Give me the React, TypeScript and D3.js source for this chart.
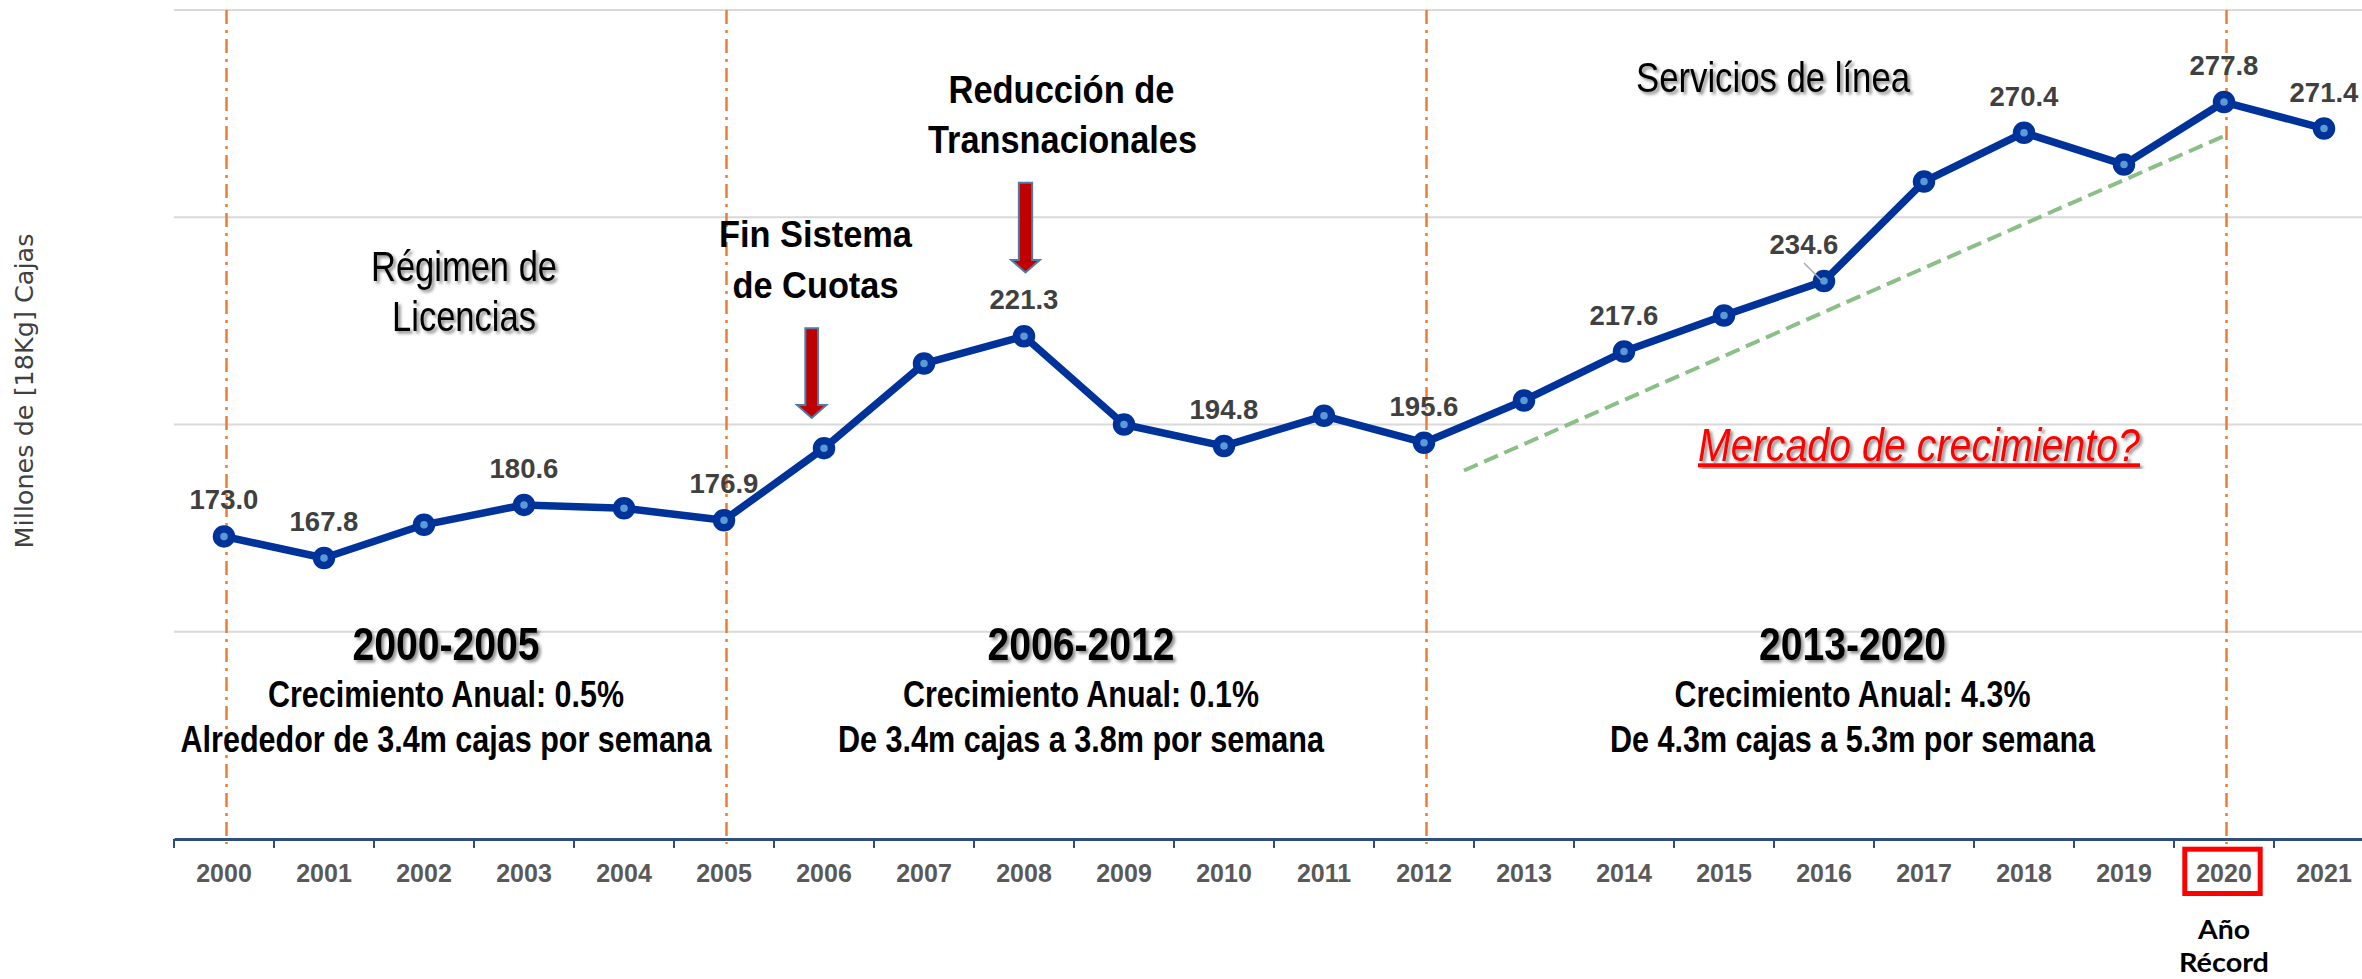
import React, { useRef, useEffect } from "react";
import * as d3 from "d3";

const years = [
  "2000", "2001", "2002", "2003", "2004", "2005", "2006", "2007", "2008", "2009", "2010",
  "2011", "2012", "2013", "2014", "2015", "2016", "2017", "2018", "2019", "2020", "2021",
];
const volumes = [
  173.0, 167.8, 175.8, 180.6, 179.8, 176.9, 194.3, 214.7, 221.3, 200.0, 194.8,
  202.1, 195.6, 205.8, 217.6, 226.3, 234.6, 258.6, 270.4, 262.7, 277.8, 271.4,
];
const labeledYears = ["2000", "2001", "2003", "2005", "2008", "2010", "2012", "2014", "2016", "2018", "2020", "2021"];
const periodBreaks = ["2000", "2005", "2012", "2020"];
const gridValues = [150, 200, 250, 300];
const trendYears = [2012.4, 2020];
const trendValues = [188.9, 269.6];
const periodTitles = ["2000-2005", "2006-2012", "2013-2020"];
const periodGrowth = ["Crecimiento Anual: 0.5%", "Crecimiento Anual: 0.1%", "Crecimiento Anual: 4.3%"];
const periodWeekly = [
  "Alrededor de 3.4m cajas por semana",
  "De 3.4m cajas a 3.8m por semana",
  "De 4.3m cajas a 5.3m por semana",
];

const W = 2362;
const H = 979;
const ARIAL = "'Liberation Sans', Arial, sans-serif";
const NARROW = "'Liberation Sans Narrow', 'Liberation Sans', Arial, sans-serif";

const App = () => {
  const svgRef = useRef(null);

  useEffect(() => {
    const svg = d3.select(svgRef.current);
    svg.selectAll("*").remove();

    const x = d3.scaleBand().domain(years).range([174, 2374]).padding(0);
    const y = d3.scaleLinear().domain([100, 300]).range([839, 10]);
    const cx = (yr) => x(yr) + x.bandwidth() / 2;
    const xYear = d3.scaleLinear().domain([2000, 2021]).range([cx("2000"), cx("2021")]);
    const data = years.map((yr, i) => ({ year: yr, value: volumes[i] }));

    const defs = svg.append("defs");
    const f = defs.append("filter").attr("id", "shadow")
      .attr("x", "-10%").attr("y", "-30%").attr("width", "130%").attr("height", "170%");
    f.append("feDropShadow").attr("dx", 2.5).attr("dy", 2.5).attr("stdDeviation", 1.6)
      .attr("flood-color", "#000").attr("flood-opacity", 0.45);

    svg.append("rect").attr("width", W).attr("height", H).attr("fill", "#fff");

    // gridlines
    svg.append("g").selectAll("line").data(gridValues).join("line")
      .attr("x1", 174).attr("x2", W)
      .attr("y1", (d) => y(d)).attr("y2", (d) => y(d))
      .attr("stroke", "#d9d9d9").attr("stroke-width", 2);

    // period separators (dash-dot)
    svg.append("g").selectAll("line").data(periodBreaks).join("line")
      .attr("x1", (d) => cx(d) + 2.5).attr("x2", (d) => cx(d) + 2.5)
      .attr("y1", y(300)).attr("y2", 844)
      .attr("stroke", "#ed7d31").attr("stroke-width", 2.5)
      .attr("stroke-dasharray", "14,6,3,6");

    // x axis
    const axis = svg.append("g")
      .attr("transform", `translate(0, ${y(100)})`)
      .call(d3.axisBottom(x).tickSize(0).tickSizeOuter(0));
    axis.select(".domain").attr("stroke", "#2e4d7b").attr("stroke-width", 3);
    axis.selectAll("text")
      .attr("y", 43).attr("dy", 0)
      .attr("fill", "#595959")
      .style("font-family", ARIAL)
      .style("font-size", "25px")
      .style("font-weight", "bold");
    svg.append("g").selectAll("line").data(years).join("line")
      .attr("x1", (d) => x(d)).attr("x2", (d) => x(d))
      .attr("y1", y(100)).attr("y2", y(100) + 9)
      .attr("stroke", "#2e4d7b").attr("stroke-width", 2);

    // trend line
    const trend = trendYears.map((t, i) => ({ t, v: trendValues[i] }));
    svg.append("path")
      .datum(trend)
      .attr("d", d3.line().x((d) => xYear(d.t)).y((d) => y(d.v)))
      .attr("fill", "none").attr("stroke", "#8cbf87").attr("stroke-width", 4)
      .attr("stroke-dasharray", "15,7");

    // main line
    svg.append("path")
      .datum(data)
      .attr("d", d3.line().x((d) => cx(d.year)).y((d) => y(d.value)))
      .attr("fill", "none").attr("stroke", "#003399").attr("stroke-width", 7.5)
      .attr("stroke-linejoin", "round");

    svg.append("g").selectAll("circle").data(data).join("circle")
      .attr("cx", (d) => cx(d.year)).attr("cy", (d) => y(d.value))
      .attr("r", 7.5).attr("fill", "#5b9bd5")
      .attr("stroke", "#003399").attr("stroke-width", 7.5);

    // data labels
    const labeled = data.filter((d) => labeledYears.includes(d.year));
    const shiftX = (d) => (d.year === "2016" ? -20 : 0);
    svg.append("g").selectAll("text").data(labeled).join("text")
      .attr("x", (d) => cx(d.year) + shiftX(d))
      .attr("y", (d) => y(d.value) - 27)
      .attr("text-anchor", "middle")
      .attr("fill", "#404040")
      .style("font-family", ARIAL).style("font-size", "27.5px").style("font-weight", "bold")
      .text((d) => d.value.toFixed(1));
    const lead = data.find((d) => d.year === "2016");
    svg.append("line")
      .attr("x1", cx(lead.year) - 20).attr("y1", y(lead.value) - 18)
      .attr("x2", cx(lead.year) - 3).attr("y2", y(lead.value) - 1)
      .attr("stroke", "#a6a6a6").attr("stroke-width", 1.5);

    // helper for annotation text
    const addText = (o) => {
      const t = svg.append("text")
        .attr("x", o.x).attr("y", o.y)
        .attr("text-anchor", "middle")
        .attr("fill", o.fill || "#000")
        .style("font-family", o.family || ARIAL)
        .style("font-size", `${o.size}px`)
        .style("font-weight", o.weight || "normal")
        .style("font-style", o.italic ? "italic" : "normal")
        .text(o.text);
      if (o.len) t.attr("textLength", o.len).attr("lengthAdjust", "spacingAndGlyphs");
      if (o.shadow) t.attr("filter", "url(#shadow)");
      return t;
    };

    // y axis title
    svg.append("text")
      .attr("transform", "translate(33, 391) rotate(-90)")
      .attr("text-anchor", "middle")
      .attr("fill", "#404040")
      .style("font-family", "'DejaVu Sans', sans-serif")
      .style("font-size", "25.5px")
      .text("Millones de [18Kg] Cajas");

    // event annotations
    addText({ x: 464, y: 281, text: "Régimen de", size: 42, family: NARROW, len: 186, shadow: true });
    addText({ x: 464, y: 331, text: "Licencias", size: 42, family: NARROW, len: 144, shadow: true });
    addText({ x: 815.5, y: 246.7, text: "Fin Sistema", size: 36, weight: "bold", len: 193 });
    addText({ x: 815.5, y: 298.3, text: "de Cuotas", size: 36, weight: "bold", len: 166 });
    addText({ x: 1061.5, y: 102.6, text: "Reducción de", size: 38, weight: "bold", len: 226 });
    addText({ x: 1062.5, y: 153, text: "Transnacionales", size: 38, weight: "bold", len: 269 });
    addText({ x: 1773, y: 91.7, text: "Servicios de línea", size: 43, family: NARROW, len: 274, shadow: true });
    addText({
      x: 1919, y: 460.7, text: "Mercado de crecimiento?", size: 47, family: NARROW,
      italic: true, fill: "#ff0000", len: 442, shadow: true,
    });
    svg.append("rect")
      .attr("x", 1698).attr("y", 463.3).attr("width", 442).attr("height", 4)
      .attr("fill", "#ff0000").attr("filter", "url(#shadow)");

    // arrows
    const arrow = (mx, top, base, tip, sw, hw) =>
      `M${mx - sw / 2},${top}H${mx + sw / 2}V${base}H${mx + hw / 2}L${mx},${tip}L${mx - hw / 2},${base}H${mx - sw / 2}Z`;
    svg.append("path").attr("d", arrow(cx("2006") - 12.3, 328.3, 405, 418, 12.7, 29.3))
      .attr("fill", "#c00000").attr("stroke", "#4f7ba8").attr("stroke-width", 2);
    svg.append("path").attr("d", arrow(cx("2008") + 1.5, 182.8, 260, 272.5, 13.3, 28.6))
      .attr("fill", "#c00000").attr("stroke", "#4f7ba8").attr("stroke-width", 2);

    // period descriptions
    const periodX = [446, 1081, 1852.5];
    const weeklyLen = [531, 486, 485];
    periodTitles.forEach((t, i) => {
      addText({ x: periodX[i], y: 660, text: t, size: 47, weight: "bold", family: NARROW, len: 187, shadow: true });
      addText({ x: periodX[i], y: 706.7, text: periodGrowth[i], size: 36, weight: "bold", family: NARROW, len: 356 });
      addText({ x: periodX[i], y: 751.7, text: periodWeekly[i], size: 36, weight: "bold", family: NARROW, len: weeklyLen[i] });
    });

    // record year box
    svg.append("rect")
      .attr("x", cx("2020") - 39.2).attr("y", 849.2)
      .attr("width", 75.4).attr("height", 44.3)
      .attr("fill", "none").attr("stroke", "#ff0000").attr("stroke-width", 5);
    addText({ x: cx("2020"), y: 939, text: "Año", size: 26, weight: "bold", family: "Lato, sans-serif", len: 52 });
    addText({ x: cx("2020"), y: 972, text: "Récord", size: 26, weight: "bold", family: "Lato, sans-serif", len: 90 });
  }, []);

  return (
    <div style={{ position: "absolute", left: 0, top: 0 }}>
      <svg ref={svgRef} width={W} height={H} style={{ display: "block" }}></svg>
    </div>
  );
};

export default App;
